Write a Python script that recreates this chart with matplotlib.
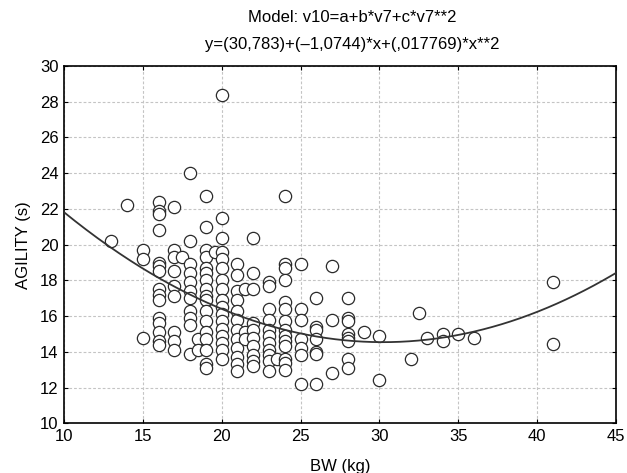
import matplotlib
matplotlib.use("Agg")
import matplotlib.pyplot as plt
import numpy as np

plt.rcParams['font.family'] = ['Liberation Sans', 'DejaVu Sans']

# Observed data (BW in kg, AGILITY in s), read column by column
bw_kg = (
    [13] + [14] + [15] * 3 + [16] * 15 + [17] * 9 + [17.5] + [18] * 11 + [18.5] * 2
    + [19] * 17 + [19.6] + [20] * 17 + [21] * 12 + [21.5] * 3 + [22] * 10
    + [23] * 11 + [23.5] + [24] * 14 + [25] * 7 + [26] * 7 + [27] * 3 + [28] * 8
    + [29] + [30] * 2 + [32] + [32.5] + [33] + [34] * 2 + [35] + [36] + [41] * 2
)
agility_s = (
    [20.2]
    + [22.2]
    + [19.7, 19.2, 14.8]
    + [22.4, 21.9, 21.7, 20.8, 19.0, 18.8, 18.5, 17.5, 17.2, 16.9, 15.9, 15.6, 15.1, 14.6, 14.4]
    + [22.1, 19.7, 19.3, 18.5, 17.7, 17.1, 15.1, 14.6, 14.1]
    + [19.3]
    + [24.0, 20.2, 18.9, 18.4, 17.9, 17.4, 17.0, 16.3, 15.9, 15.5, 13.9]
    + [14.7, 14.1]
    + [22.7, 21.0, 19.7, 19.3, 18.7, 18.4, 18.0, 17.5, 17.1, 16.9, 16.3, 15.7, 15.1, 14.7, 14.1, 13.3, 13.1]
    + [19.6]
    + [28.4, 21.5, 20.4, 19.6, 19.2, 18.7, 18.0, 17.5, 16.9, 16.5, 16.1, 15.7, 15.3, 14.9, 14.5, 14.1, 13.6]
    + [18.9, 18.3, 17.4, 16.9, 16.3, 15.8, 15.2, 14.7, 14.2, 13.7, 13.3, 12.9]
    + [17.5, 15.1, 14.7]
    + [20.35, 18.4, 17.5, 15.6, 15.2, 14.8, 14.3, 13.8, 13.5, 13.2]
    + [17.9, 17.7, 16.4, 15.8, 15.2, 14.9, 14.5, 14.1, 13.8, 13.5, 12.9]
    + [13.6]
    + [22.7, 18.9, 18.7, 18.0, 16.8, 16.4, 15.7, 15.2, 14.9, 14.6, 14.3, 13.6, 13.4, 13.0]
    + [18.9, 16.4, 15.8, 14.7, 14.2, 13.8, 12.2]
    + [17.0, 15.4, 15.2, 14.7, 14.0, 13.9, 12.2]
    + [18.8, 15.8, 12.8]
    + [17.0, 15.9, 15.7, 15.0, 14.8, 14.6, 13.6, 13.1]
    + [15.1]
    + [14.9, 12.4]
    + [13.6]
    + [16.2]
    + [14.8]
    + [15.0, 14.6]
    + [15.0]
    + [14.8]
    + [17.9, 14.45]
)

# Fitted model coefficients (from the title)
coef_a, coef_b, coef_c = 30.783, -1.0744, 0.017769

x_ticks = [10, 15, 20, 25, 30, 35, 40, 45]
y_ticks = [10, 12, 14, 16, 18, 20, 22, 24, 26, 28, 30]

fig = plt.figure(figsize=(6.27, 4.73), dpi=100)
ax = fig.add_axes([64 / 627, 1 - 423.3 / 473, (616 - 64) / 627, (423.3 - 66) / 473])

ax.grid(True, color='#c4c4c4', linestyle=(0, (2.5, 1.8)), linewidth=0.8)
ax.set_axisbelow(True)

ax.scatter(bw_kg, agility_s, s=78, facecolors='white', edgecolors='#2a2a2a',
           linewidths=0.9, zorder=3)

xf = np.linspace(10, 45, 300)
yf = coef_a + coef_b * xf + coef_c * xf ** 2
ax.plot(xf, yf, color='#333333', linewidth=1.3, zorder=4)

ax.set_xlim(10, 45)
ax.set_ylim(10, 30)
ax.set_xticks(x_ticks)
ax.set_yticks(y_ticks)
ax.tick_params(direction='in', length=3, width=0.8, top=True, right=True,
               labelsize=12, colors='black', pad=4)
for sp in ax.spines.values():
    sp.set_linewidth(1.2)
    sp.set_color('black')

ax.set_xlabel('BW (kg)', fontsize=12, labelpad=11)
ax.set_ylabel('AGILITY (s)', fontsize=12, labelpad=6)

fig.text(0.562, 1 - 17 / 473, 'Model: v10=a+b*v7+c*v7**2', ha='center', va='center', fontsize=12)
fig.text(0.562, 1 - 45 / 473, 'y=(30,783)+(\u20131,0744)*x+(,017769)*x**2', ha='center',
         va='center', fontsize=12)

fig.savefig('out.png', dpi=100)
